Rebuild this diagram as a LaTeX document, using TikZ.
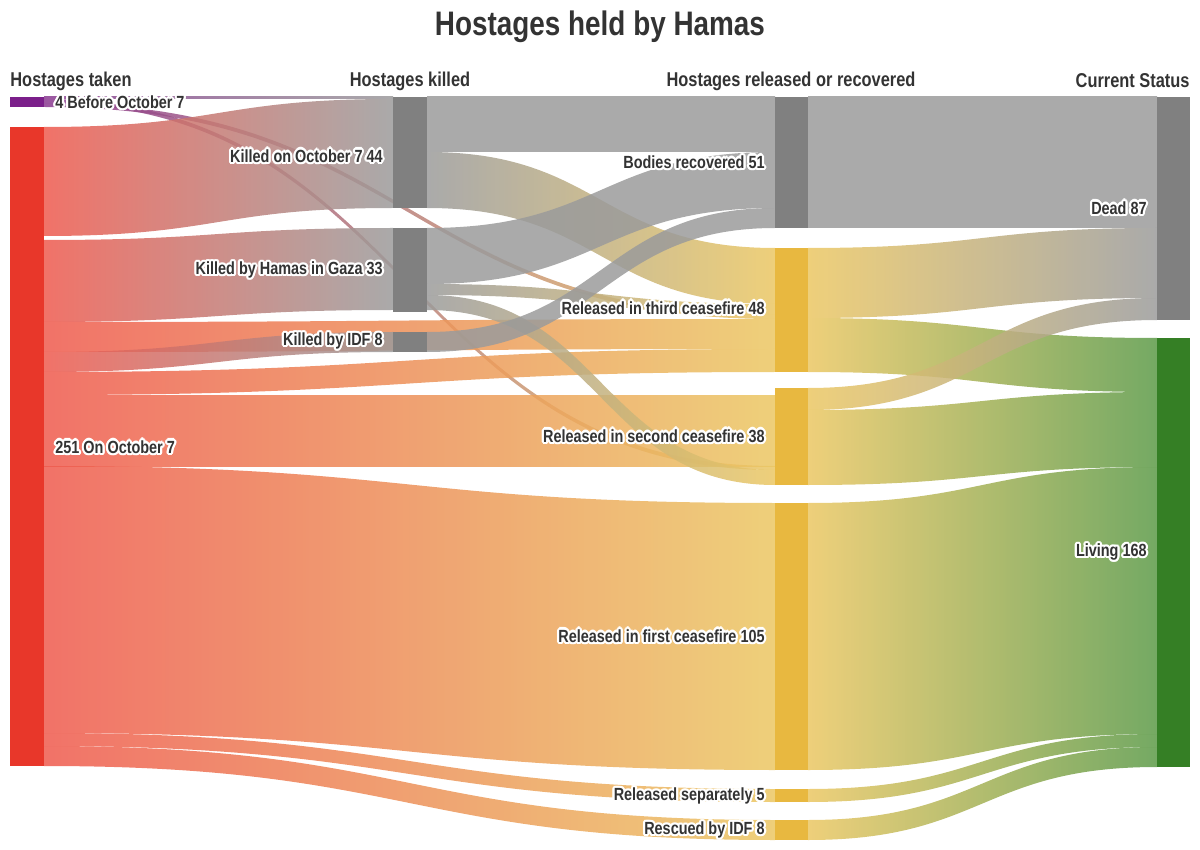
\documentclass[tikz,border=0pt]{standalone}
\usepackage{fontspec}
\setmainfont{Liberation Sans}[FakeStretch=0.82]
\usepackage{contour}
\contourlength{1.1pt}
\contournumber{12}
\definecolor{redbarc}{HTML}{E8372A}\definecolor{redflc}{HTML}{EE5A4E}
\definecolor{graybarc}{HTML}{808080}\definecolor{grayflc}{HTML}{9B9B9B}
\definecolor{yelbarc}{HTML}{E8B840}\definecolor{yelflc}{HTML}{EBC763}
\definecolor{grnbarc}{HTML}{357F25}\definecolor{grnflc}{HTML}{5C9A48}
\definecolor{purbarc}{HTML}{7B1F8A}\definecolor{purflc}{HTML}{8A3A90}
\definecolor{txtc}{HTML}{333333}
\newcommand\flow[7]{\shade[fill opacity=.85,left color=#6,right color=#7] (#1,#2) .. controls ({(#1+#4)/2},#2) and ({(#1+#4)/2},#5) .. (#4,#5) -- (#4,{#5+#3}) .. controls ({(#1+#4)/2},{#5+#3}) and ({(#1+#4)/2},{#2+#3}) .. (#1,{#2+#3}) -- cycle;}
\newcommand\lab[1]{\contour{white}{#1}}
\tikzset{lbl/.style={font=\bfseries\fontsize{8.8}{10}\selectfont,text=txtc,inner sep=0pt},
hdr/.style={font=\bfseries\fontsize{10}{12}\selectfont,text=txtc,inner sep=0pt}}
\begin{document}
\begin{tikzpicture}[x=0.5pt,y=-0.5pt]
\useasboundingbox (0,0) rectangle (1200,850);
% col1 -> col2/3
\flow{44}{97}{2}{393}{97}{purflc}{grayflc}
\flow{44}{99}{4}{775}{466}{purflc}{yelflc}
\flow{44}{103}{4}{775}{315}{purflc}{yelflc}
\flow{44}{127}{109}{393}{99}{redflc}{grayflc}
\flow{44}{240}{82}{393}{228}{redflc}{grayflc}
\flow{44}{322}{30}{775}{319}{redflc}{yelflc}
\flow{44}{352}{20}{393}{332}{redflc}{grayflc}
\flow{44}{372}{23}{775}{349}{redflc}{yelflc}
\flow{44}{395}{71}{775}{395}{redflc}{yelflc}
\flow{44}{466}{267}{775}{503}{redflc}{yelflc}
\flow{44}{733}{13}{775}{789}{redflc}{yelflc}
\flow{44}{746}{20}{775}{820}{redflc}{yelflc}
% col2 -> col3
\flow{427}{97}{55}{775}{97}{grayflc}{grayflc}
\flow{427}{152}{56}{775}{248}{grayflc}{yelflc}
\flow{427}{228}{56}{775}{152}{grayflc}{grayflc}
\flow{427}{284}{11}{775}{304}{grayflc}{yelflc}
\flow{427}{295}{15}{775}{470}{grayflc}{yelflc}
\flow{427}{332}{20}{775}{208}{grayflc}{grayflc}
% col3 -> col4
\flow{808}{97}{131}{1157}{97}{grayflc}{grayflc}
\flow{808}{248}{70}{1157}{228}{yelflc}{grayflc}
\flow{808}{318}{54}{1157}{338}{yelflc}{grnflc}
\flow{808}{388}{22}{1157}{298}{yelflc}{grayflc}
\flow{808}{410}{75}{1157}{392}{yelflc}{grnflc}
\flow{808}{503}{267}{1157}{467}{yelflc}{grnflc}
\flow{808}{789}{13}{1157}{734}{yelflc}{grnflc}
\flow{808}{820}{20}{1157}{747}{yelflc}{grnflc}
% bars
\fill[purbarc] (10,97) rectangle (44,107);
\fill[redbarc] (10,127) rectangle (44,766);
\fill[graybarc] (393,97) rectangle (427,208);
\fill[graybarc] (393,228) rectangle (427,312);
\fill[graybarc] (393,332) rectangle (427,352);
\fill[graybarc] (775,97) rectangle (808,228);
\fill[yelbarc] (775,248) rectangle (808,372);
\fill[yelbarc] (775,388) rectangle (808,485);
\fill[yelbarc] (775,503) rectangle (808,770);
\fill[yelbarc] (775,789) rectangle (808,802);
\fill[yelbarc] (775,820) rectangle (808,840);
\fill[graybarc] (1157,97) rectangle (1190,320);
\fill[grnbarc] (1157,338) rectangle (1190,767);
% labels
\node[font=\bfseries\fontsize{17}{19}\selectfont,text=txtc] (title) at (600,27) {Hostages held by Hamas};
\node[hdr,anchor=west] (h1) at (10,81) {Hostages taken};
\node[hdr] (h2) at (410,81) {Hostages killed};
\node[hdr] (h3) at (791,81) {Hostages released or recovered};
\node[hdr,anchor=east] (h4) at (1190,81) {Current Status};
\node[lbl,anchor=west] (n1) at (55,103) {\lab{4 Before October 7}};
\node[lbl,anchor=west] (n2) at (55,448) {\lab{251 On October 7}};
\node[lbl,anchor=east] (n3) at (383,157) {\lab{Killed on October 7 44}};
\node[lbl,anchor=east] (n4) at (383,271) {\lab{Killed by Hamas in Gaza 33}};
\node[lbl,anchor=east] (n5) at (383,342) {\lab{Killed by IDF 8}};
\node[lbl,anchor=east] (n6) at (765,163) {\lab{Bodies recovered 51}};
\node[lbl,anchor=east] (n7) at (765,309) {\lab{Released in third ceasefire 48}};
\node[lbl,anchor=east] (n8) at (765,437) {\lab{Released in second ceasefire 38}};
\node[lbl,anchor=east] (n9) at (765,637) {\lab{Released in first ceasefire 105}};
\node[lbl,anchor=east] (n10) at (765,797) {\lab{Released separately 5}};
\node[lbl,anchor=east] (n11) at (765,831) {\lab{Rescued by IDF 8}};
\node[lbl,anchor=east] (n12) at (1147,209) {\lab{Dead 87}};
\node[lbl,anchor=east] (n13) at (1147,553) {\lab{Living 168}};
\end{tikzpicture}
\end{document}
